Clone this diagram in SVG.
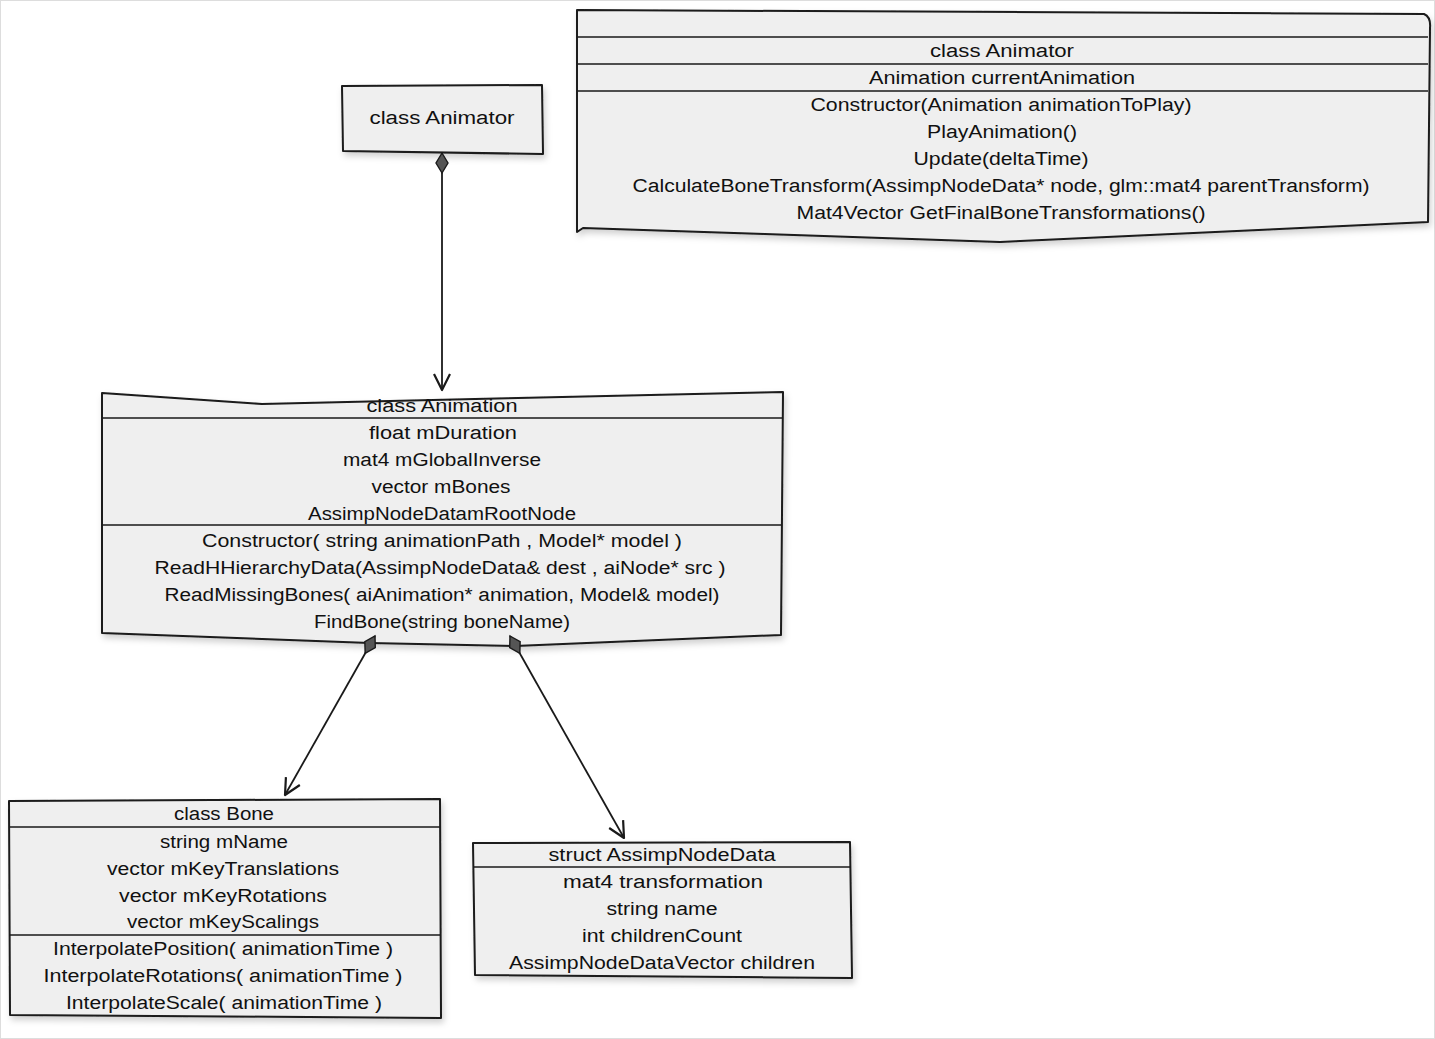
<svg xmlns="http://www.w3.org/2000/svg" width="1435" height="1039" viewBox="0 0 1435 1039">
<style>
.box{fill:#efefef;stroke:#1a1a1a;stroke-width:2;stroke-linejoin:round;filter:url(#sh)}
.sep{stroke:#1a1a1a;stroke-width:1.6;fill:none}
.t{font-family:"Liberation Sans",Arial,sans-serif;font-size:18px;fill:#111;text-anchor:middle;dominant-baseline:central}
.conn{stroke:#1a1a1a;stroke-width:1.8;fill:none}
</style>
<defs>
<filter id="sh" x="-5%" y="-5%" width="112%" height="120%">
<feDropShadow dx="2" dy="4" stdDeviation="3" flood-color="#000" flood-opacity="0.18"/>
</filter>
<marker id="dia" markerUnits="userSpaceOnUse" markerWidth="26" markerHeight="16" refX="0" refY="0" viewBox="-2 -8 26 16" orient="auto" overflow="visible">
<path d="M0,0 L10,-6 L20,0 L10,6 Z" fill="#555" stroke="#1a1a1a" stroke-width="1.4"/>
</marker>
<marker id="arr" markerUnits="userSpaceOnUse" markerWidth="24" markerHeight="20" refX="0" refY="0" viewBox="-20 -10 24 20" orient="auto" overflow="visible">
<path d="M-16,-8 L0,0 L-16,8" fill="none" stroke="#1a1a1a" stroke-width="2.2" stroke-linejoin="round"/>
</marker>
</defs>
<rect x="0.5" y="0.5" width="1434" height="1038" fill="#fff" stroke="#ddd"/>

<g id="animator-small">
<path class="box" d="M342,86 L542,85 L543,154 L343,151 Z"/>
<text class="t" x="442" y="118" textLength="145" lengthAdjust="spacingAndGlyphs">class Animator</text>
</g>

<g id="animator-big">
<path class="box" d="M577,10 L1424,14 Q1431,17 1430,28 L1428,222 L1000,242 L583,228 L577,232 Z"/>
<path class="sep" d="M577,37 L1428,37 M577,64 L1428,64 M577,91 L1428,91"/>
<text class="t" x="1002" y="51" textLength="144" lengthAdjust="spacingAndGlyphs">class Animator</text>
<text class="t" x="1002" y="78" textLength="266" lengthAdjust="spacingAndGlyphs">Animation currentAnimation</text>
<text class="t" x="1001" y="105" textLength="381" lengthAdjust="spacingAndGlyphs">Constructor(Animation animationToPlay)</text>
<text class="t" x="1002" y="132" textLength="150" lengthAdjust="spacingAndGlyphs">PlayAnimation()</text>
<text class="t" x="1001" y="159" textLength="175" lengthAdjust="spacingAndGlyphs">Update(deltaTime)</text>
<text class="t" x="1001" y="186" textLength="737" lengthAdjust="spacingAndGlyphs">CalculateBoneTransform(AssimpNodeData* node, glm::mat4 parentTransform)</text>
<text class="t" x="1001" y="213" textLength="409" lengthAdjust="spacingAndGlyphs">Mat4Vector GetFinalBoneTransformations()</text>
</g>

<g id="animation">
<path class="box" d="M102,393 L262,404 L783,392 L781,635 L515,646 L370,643 L102,633 Z"/>
<path class="sep" d="M102,418 L783,418 M102,525 L782,525"/>
<text class="t" x="442" y="406" textLength="151" lengthAdjust="spacingAndGlyphs">class Animation</text>
<text class="t" x="443" y="433" textLength="148" lengthAdjust="spacingAndGlyphs">float mDuration</text>
<text class="t" x="442" y="460" textLength="198" lengthAdjust="spacingAndGlyphs">mat4 mGlobalInverse</text>
<text class="t" x="441" y="487" textLength="139" lengthAdjust="spacingAndGlyphs">vector mBones</text>
<text class="t" x="442" y="514" textLength="268" lengthAdjust="spacingAndGlyphs">AssimpNodeDatamRootNode</text>
<text class="t" x="442" y="541" textLength="480" lengthAdjust="spacingAndGlyphs">Constructor( string animationPath , Model* model )</text>
<text class="t" x="440" y="568" textLength="571" lengthAdjust="spacingAndGlyphs">ReadHHierarchyData(AssimpNodeData&amp; dest , aiNode* src )</text>
<text class="t" x="442" y="595" textLength="555" lengthAdjust="spacingAndGlyphs">ReadMissingBones( aiAnimation* animation, Model&amp; model)</text>
<text class="t" x="442" y="622" textLength="256" lengthAdjust="spacingAndGlyphs">FindBone(string boneName)</text>
</g>

<g id="bone">
<path class="box" d="M9,801 L440,799 L441,1018 L10,1015 Z"/>
<path class="sep" d="M9,827 L440,827 M9,935 L440,935"/>
<text class="t" x="224" y="814" textLength="100" lengthAdjust="spacingAndGlyphs">class Bone</text>
<text class="t" x="224" y="842" textLength="128" lengthAdjust="spacingAndGlyphs">string mName</text>
<text class="t" x="223" y="869" textLength="232" lengthAdjust="spacingAndGlyphs">vector mKeyTranslations</text>
<text class="t" x="223" y="896" textLength="208" lengthAdjust="spacingAndGlyphs">vector mKeyRotations</text>
<text class="t" x="223" y="922" textLength="192" lengthAdjust="spacingAndGlyphs">vector mKeyScalings</text>
<text class="t" x="223" y="949" textLength="340" lengthAdjust="spacingAndGlyphs">InterpolatePosition( animationTime )</text>
<text class="t" x="223" y="976" textLength="359" lengthAdjust="spacingAndGlyphs">InterpolateRotations( animationTime )</text>
<text class="t" x="224" y="1003" textLength="316" lengthAdjust="spacingAndGlyphs">InterpolateScale( animationTime )</text>
</g>

<g id="assimpnodedata">
<path class="box" d="M473,843 L850,842 L852,978 L475,975 Z"/>
<path class="sep" d="M473,867 L851,867"/>
<text class="t" x="662" y="855" textLength="227" lengthAdjust="spacingAndGlyphs">struct AssimpNodeData</text>
<text class="t" x="663" y="882" textLength="200" lengthAdjust="spacingAndGlyphs">mat4 transformation</text>
<text class="t" x="662" y="909" textLength="111" lengthAdjust="spacingAndGlyphs">string name</text>
<text class="t" x="662" y="936" textLength="160" lengthAdjust="spacingAndGlyphs">int childrenCount</text>
<text class="t" x="662" y="963" textLength="306" lengthAdjust="spacingAndGlyphs">AssimpNodeDataVector children</text>
</g>

<g id="connectors">
<path class="conn" d="M442,153 L442,390" marker-start="url(#dia)" marker-end="url(#arr)"/>
<path class="conn" d="M375,636 L285,795" marker-start="url(#dia)" marker-end="url(#arr)"/>
<path class="conn" d="M510,636 L624,838" marker-start="url(#dia)" marker-end="url(#arr)"/>
</g>
</svg>
